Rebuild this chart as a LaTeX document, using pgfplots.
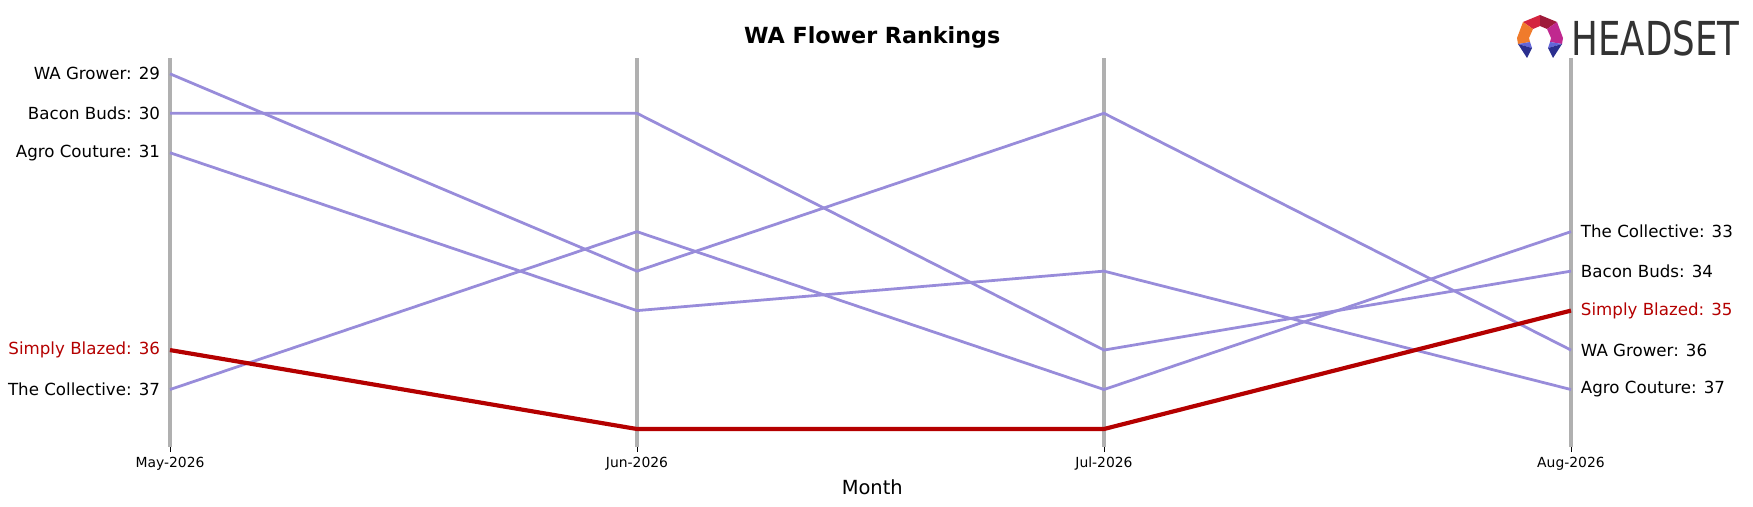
\documentclass[border=0pt]{standalone}
\usepackage{pgfplots}
\pgfplotsset{compat=1.18}
\usepackage{fontspec}
\setmainfont{DejaVu Sans}
\definecolor{lpurple}{RGB}{152,140,218}
\definecolor{lred}{RGB}{180,0,0}
\definecolor{lgray}{RGB}{176,176,176}
\definecolor{dgray}{RGB}{51,51,51}
\definecolor{lgA}{RGB}{212,36,63}
\definecolor{lgB}{RGB}{158,26,58}
\definecolor{lgC}{RGB}{240,123,43}
\definecolor{lgD}{RGB}{192,40,143}
\definecolor{lgE}{RGB}{99,102,216}
\definecolor{lgF}{RGB}{43,47,143}
\begin{document}
\begin{tikzpicture}
\useasboundingbox (0,0) rectangle (1262.16pt,364.32pt);
\begin{axis}[
  at={(122.4pt,42.48pt)}, anchor=south west,
  scale only axis, width=1008.72pt, height=280.08pt,
  xmin=0, xmax=3, ymin=28.6, ymax=38.456, y dir=reverse,
  axis line style={draw=none},
  ytick=\empty,
  xtick={0,1,2,3},
  xticklabels={May-2026,Jun-2026,Jul-2026,Aug-2026},
  xtick pos=bottom, tick align=outside,
  major tick length=3.6pt,
  tick style={black, line width=0.6pt},
  xticklabel style={font=\fontsize{10}{12}\selectfont, yshift=0pt},
  clip=false,
]
\addplot[lgray, line width=2.4pt] coordinates {(0,28.6) (0,38.456)};
\addplot[lgray, line width=2.4pt] coordinates {(1,28.6) (1,38.456)};
\addplot[lgray, line width=2.4pt] coordinates {(2,28.6) (2,38.456)};
\addplot[lgray, line width=2.4pt] coordinates {(3,28.6) (3,38.456)};
% WA Grower
\addplot[lpurple, line width=2pt] coordinates {(0,29) (1,34) (2,30) (3,36)};
% Bacon Buds
\addplot[lpurple, line width=2pt] coordinates {(0,30) (1,30) (2,36) (3,34)};
% Agro Couture
\addplot[lpurple, line width=2pt] coordinates {(0,31) (1,35) (2,34) (3,37)};
% The Collective
\addplot[lpurple, line width=2pt] coordinates {(0,37) (1,33) (2,37) (3,33)};
% Simply Blazed
\addplot[lred, line width=3pt] coordinates {(0,36) (1,38) (2,38) (3,35)};

\begin{scope}[every node/.style={font=\fontsize{12}{14}\selectfont, inner sep=0pt}]
\node[anchor=east] at (axis cs:0,29) [xshift=-7pt] {WA Grower: 29};
\node[anchor=east] at (axis cs:0,30) [xshift=-7pt] {Bacon Buds: 30};
\node[anchor=east] at (axis cs:0,31) [xshift=-7pt] {Agro Couture: 31};
\node[anchor=east, text=lred] at (axis cs:0,36) [xshift=-7pt] {Simply Blazed: 36};
\node[anchor=east] at (axis cs:0,37) [xshift=-7pt] {The Collective: 37};
\node[anchor=west] at (axis cs:3,33) [xshift=7pt] {The Collective: 33};
\node[anchor=west] at (axis cs:3,34) [xshift=7pt] {Bacon Buds: 34};
\node[anchor=west, text=lred] at (axis cs:3,35) [xshift=7pt] {Simply Blazed: 35};
\node[anchor=west] at (axis cs:3,36) [xshift=7pt] {WA Grower: 36};
\node[anchor=west] at (axis cs:3,37) [xshift=7pt] {Agro Couture: 37};
\end{scope}
\end{axis}
\node[font=\fontsize{16}{19}\selectfont\bfseries] at (628pt,337.7pt) {WA Flower Rankings};
\node[font=\fontsize{14}{17}\selectfont] at (628pt,13.7pt) {Month};
% logo
\begin{scope}[x=0.72pt, y=-0.72pt, shift={(0pt,364.32pt)}]
\node[anchor=west, inner sep=0pt, text=dgray] at (1571,38) {\resizebox{121pt}{25pt}{HEADSET}};
\fill[lgA] (1540,15) -- (1523,22) -- (1533,29) -- (1540,26) -- cycle;
\fill[lgB] (1540,15) -- (1557,22) -- (1547,29) -- (1540,26) -- cycle;
\fill[lgC] (1523,22) -- (1517,38) -- (1518,44) -- (1530,42) -- (1529,38) -- (1533,29) -- cycle;
\fill[lgD] (1557,22) -- (1563,38) -- (1562,44) -- (1550,42) -- (1551,38) -- (1547,29) -- cycle;
\fill[lgE] (1518,44) -- (1532,48) -- (1530,42) -- cycle;
\fill[lgF] (1518,44) -- (1527,58) -- (1532,48) -- cycle;
\fill[lgE] (1562,44) -- (1548,48) -- (1550,42) -- cycle;
\fill[lgF] (1562,44) -- (1553,58) -- (1548,48) -- cycle;
\end{scope}
\end{tikzpicture}
\end{document}
